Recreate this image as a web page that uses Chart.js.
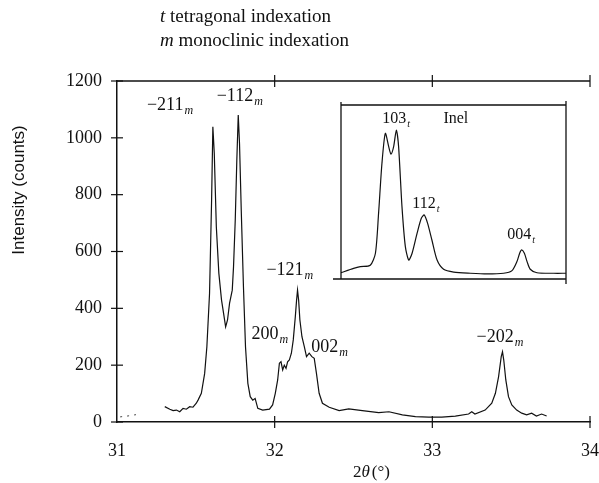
<!DOCTYPE html>
<html>
<head>
<meta charset="utf-8">
<script src="https://cdn.jsdelivr.net/npm/chart.js@4"></script>
<style>
  body { margin: 0; background: #fff; }
  #wrap { position: relative; width: 599px; height: 483px; }
  #mainChart { position: absolute; left: 0; top: 0; }
  #insetChart { position: absolute; left: 330px; top: 95px; }
</style>
</head>
<body>
<div id="wrap">
  <canvas id="mainChart" width="599" height="483"></canvas>
  <canvas id="insetChart" width="245" height="195"></canvas>
</div>
<script>
// main scan, 2theta (deg) and intensity (counts)
const theta = [31.303, 31.335, 31.356, 31.377, 31.398, 31.419, 31.44, 31.461, 31.482, 31.503,
  31.514, 31.535, 31.556, 31.57, 31.587, 31.6, 31.608, 31.617, 31.63, 31.646,
  31.663, 31.676, 31.689, 31.701, 31.714, 31.731, 31.739, 31.75, 31.76, 31.769,
  31.777, 31.788, 31.802, 31.815, 31.83, 31.845, 31.861, 31.876, 31.893, 31.924,
  31.967, 31.987, 32.004, 32.019, 32.03, 32.04, 32.051, 32.061, 32.072, 32.082,
  32.093, 32.106, 32.118, 32.131, 32.139, 32.145, 32.152, 32.16, 32.173, 32.188,
  32.202, 32.219, 32.236, 32.251, 32.265, 32.282, 32.303, 32.346, 32.409, 32.47,
  32.556, 32.66, 32.725, 32.81, 32.893, 32.977, 33.06, 33.146, 33.23, 33.25,
  33.27, 33.335, 33.377, 33.4, 33.42, 33.437, 33.445, 33.453, 33.466, 33.483,
  33.504, 33.535, 33.567, 33.598, 33.63, 33.66, 33.693, 33.725]
const counts = [54, 45, 40, 42, 36, 48, 45, 54, 52, 66,
  77, 101, 171, 265, 453, 781, 1039, 945, 687, 523,
  429, 382, 335, 359, 418, 464, 546, 711, 922, 1080,
  981, 746, 476, 265, 136, 89, 77, 83, 48, 42,
  45, 60, 101, 148, 207, 212, 183, 200, 189, 212,
  218, 242, 289, 371, 429, 464, 429, 359, 300, 265,
  230, 242, 230, 224, 171, 101, 66, 52, 40, 46,
  40, 33, 36, 25, 19, 17, 17, 21, 28, 36,
  28, 42, 66, 101, 159, 230, 247, 218, 148, 89,
  60, 42, 31, 25, 31, 21, 28, 21]

// faint dotted start of the scan
const thetaStart = [31.02, 31.05, 31.08, 31.11, 31.14]
const countsStart = [18, 20, 22, 25, 27]

const xTicks = [31, 32, 33, 34]
const yTicks = [0, 200, 400, 600, 800, 1000, 1200]

// peak labels: name, left edge (2theta), baseline (counts)
const peakNames = ["\u2212211", "\u2212112", "200", "\u2212121", "002", "\u2212202"]
const peakTheta = [31.19, 31.632, 31.853, 31.948, 32.232, 33.28]
const peakLevel = [1098, 1129, 292, 517, 246, 281]

// inset (Inel), arbitrary units 0..100 on both axes
const insetPos = [0, 5.6, 8.6, 13.0, 15.3, 16.7, 18.2, 19.7, 21.2, 22.2,
  23.4, 24.6, 25.6, 27.1, 28.6, 30.1, 31.6, 33.8, 35.7, 37.0,
  38.5, 40.4, 42.7, 45.6, 50.1, 57.5, 64.9, 72.3, 76.0, 78.2,
  79.4, 80.3, 81.5, 82.7, 84.1, 87.1, 94.5, 100]
const insetCounts = [3.6, 6.1, 7.1, 7.9, 14.8, 37.7, 66.5, 83.7, 76.1, 71.8,
  76.1, 85.6, 76.1, 41.6, 18.6, 10.9, 14.8, 26.2, 34.9, 36.8,
  32.0, 22.4, 10.9, 5.6, 4.0, 3.3, 2.9, 3.3, 4.8, 10.0,
  14.8, 16.7, 14.8, 10.0, 5.6, 3.6, 3.3, 3.3]
const insetNames = ["103", "112", "004"]
const insetPosLbl = [18.3, 31.7, 73.9]
const insetLevel = [89.7, 40.8, 23]

const ink = "#111"
const serif = "\"Liberation Serif\", \"Times New Roman\", serif"

function toPoints(xs, ys) {
  return xs.map((x, i) => ({ x, y: ys[i] }))
}

function drawSubLabel(ctx, x, y, text, sub, size) {
  ctx.font = `${size}px ${serif}`
  ctx.fillText(text, x, y)
  const w = ctx.measureText(text).width
  ctx.font = `italic ${Math.round(size * 0.65)}px ${serif}`
  ctx.fillText(sub, x + w + 1, y + 4)
}

const mainDecor = {
  id: "mainDecor",
  afterDraw(c) {
    const ctx = c.ctx
    const xs = c.scales.x
    const ys = c.scales.y
    const { left, right, top, bottom } = c.chartArea
    ctx.save()
    ctx.strokeStyle = ink
    ctx.fillStyle = ink
    ctx.lineWidth = 1.5

    // top frame line
    ctx.beginPath()
    ctx.moveTo(left, top)
    ctx.lineTo(right, top)
    ctx.stroke()

    // ticks crossing the axes
    ctx.lineWidth = 1.2
    xTicks.forEach(v => {
      if (v === xTicks[0]) return
      const px = xs.getPixelForValue(v)
      ctx.beginPath()
      ctx.moveTo(px, bottom - 6)
      ctx.lineTo(px, bottom + 6)
      ctx.moveTo(px, top - 6)
      ctx.lineTo(px, top + 6)
      ctx.stroke()
    })
    yTicks.forEach(v => {
      const py = ys.getPixelForValue(v)
      ctx.beginPath()
      ctx.moveTo(left - 6, py)
      ctx.lineTo(left + 6, py)
      ctx.stroke()
    })

    // peak labels
    ctx.textAlign = "left"
    ctx.textBaseline = "alphabetic"
    peakNames.forEach((name, i) => {
      drawSubLabel(ctx, xs.getPixelForValue(peakTheta[i]), ys.getPixelForValue(peakLevel[i]), name, "m", 18)
    })

    // header lines
    ctx.font = `italic 19px ${serif}`
    ctx.fillText("t", 160, 22)
    const tw = ctx.measureText("t").width
    ctx.font = `19px ${serif}`
    ctx.fillText(" tetragonal indexation", 160 + tw, 22)
    ctx.font = `italic 19px ${serif}`
    ctx.fillText("m", 160, 46)
    const mw = ctx.measureText("m").width
    ctx.font = `19px ${serif}`
    ctx.fillText(" monoclinic indexation", 160 + mw, 46)

    // x axis title: 2θ (°)
    let x = 353
    ctx.font = `17px ${serif}`
    ctx.fillText("2", x, 477)
    x += ctx.measureText("2").width
    ctx.font = `italic 17px ${serif}`
    ctx.fillText("\u03b8", x, 477)
    x += ctx.measureText("\u03b8").width + 2
    ctx.font = `17px ${serif}`
    ctx.fillText("(\u00b0)", x, 477)

    // y axis title
    ctx.translate(24, 190)
    ctx.rotate(-Math.PI / 2)
    ctx.textAlign = "center"
    ctx.font = "17px \"Liberation Sans\", Arial, sans-serif"
    ctx.fillText("Intensity (counts)", 0, 0)
    ctx.restore()
  }
}

new Chart(document.getElementById("mainChart"), {
  type: "line",
  data: {
    datasets: [
      { data: toPoints(theta, counts), borderColor: ink, borderWidth: 1.2, pointRadius: 0, tension: 0 },
      { data: toPoints(thetaStart, countsStart), borderColor: "#444", borderWidth: 1, borderDash: [2, 5], pointRadius: 0 }
    ]
  },
  options: {
    responsive: false,
    animation: false,
    devicePixelRatio: 1,
    layout: { padding: { top: 81, right: 9, left: 0, bottom: 0 } },
    plugins: { legend: { display: false }, tooltip: { enabled: false } },
    scales: {
      x: {
        type: "linear",
        min: 31,
        max: 34,
        afterBuildTicks: s => { s.ticks = xTicks.map(v => ({ value: v })) },
        afterFit: s => { s.height = 61; s.paddingLeft = 0; s.paddingRight = 0 },
        grid: { display: false, drawTicks: false },
        border: { display: true, color: ink, width: 1.5 },
        ticks: { color: ink, padding: 18, maxRotation: 0, callback: v => String(v), font: { family: serif, size: 18 } }
      },
      y: {
        min: 0,
        max: 1200,
        afterBuildTicks: s => { s.ticks = yTicks.map(v => ({ value: v })) },
        afterFit: s => { s.width = 117; s.paddingTop = 0; s.paddingBottom = 0 },
        grid: { display: false, drawTicks: false },
        border: { display: true, color: ink, width: 1.5 },
        ticks: { color: ink, padding: 15, callback: v => String(v), font: { family: serif, size: 18 } }
      }
    }
  },
  plugins: [mainDecor]
})

const insetDecor = {
  id: "insetDecor",
  afterDraw(c) {
    const ctx = c.ctx
    const xs = c.scales.x
    const ys = c.scales.y
    const { left, right, top, bottom } = c.chartArea
    ctx.save()
    ctx.strokeStyle = ink
    ctx.fillStyle = ink
    ctx.lineWidth = 1.3
    ctx.beginPath()
    ctx.moveTo(left, top - 3)
    ctx.lineTo(left, bottom)
    ctx.moveTo(left - 8, bottom)
    ctx.lineTo(right, bottom)
    ctx.moveTo(left, top)
    ctx.lineTo(right, top)
    ctx.moveTo(right, top - 4)
    ctx.lineTo(right, bottom + 5)
    ctx.stroke()

    ctx.textAlign = "left"
    ctx.textBaseline = "alphabetic"
    insetNames.forEach((name, i) => {
      drawSubLabel(ctx, xs.getPixelForValue(insetPosLbl[i]), ys.getPixelForValue(insetLevel[i]), name, "t", 16)
    })
    ctx.font = `16px ${serif}`
    ctx.fillText("Inel", xs.getPixelForValue(45.5), ys.getPixelForValue(89.7))
    ctx.restore()
  }
}

new Chart(document.getElementById("insetChart"), {
  type: "line",
  data: {
    datasets: [
      { data: toPoints(insetPos, insetCounts), borderColor: ink, borderWidth: 1.2, pointRadius: 0, tension: 0.25 }
    ]
  },
  options: {
    responsive: false,
    animation: false,
    devicePixelRatio: 1,
    layout: { padding: { top: 10, right: 9, left: 11, bottom: 11 } },
    plugins: { legend: { display: false }, tooltip: { enabled: false } },
    scales: {
      x: { type: "linear", min: 0, max: 100, display: false },
      y: { min: 0, max: 100, display: false }
    }
  },
  plugins: [insetDecor]
})
</script>
</body>
</html>
